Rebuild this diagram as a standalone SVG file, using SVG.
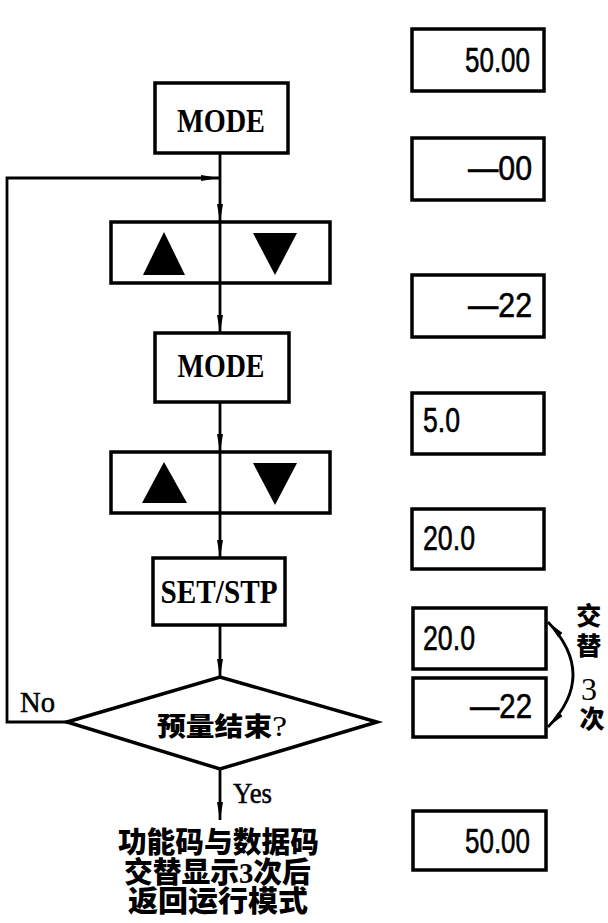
<svg xmlns="http://www.w3.org/2000/svg" width="608" height="923" viewBox="0 0 608 923">
<style>
.box{fill:#fff;stroke:#000;stroke-width:3.5}
.ln{fill:none;stroke:#000;stroke-width:2.8}
.key{font-family:"Liberation Serif",serif;font-size:33px;font-weight:bold;fill:#000}
.num{font-family:"Liberation Sans",sans-serif;font-size:35px;fill:#000;stroke:#000;stroke-width:0.6}
.cjk{font-family:"Liberation Serif","Noto Sans CJK SC",serif;font-weight:900;fill:#000}
.lbl{font-family:"Liberation Serif",serif;font-size:29px;fill:#000;stroke:#000;stroke-width:0.5}
</style>
<defs>
<marker id="arr" viewBox="0 0 18 8" markerWidth="18" markerHeight="8" refX="18" refY="4" orient="auto-start-reverse" markerUnits="userSpaceOnUse">
<path d="M0,1 L18,4 L0,7 z" fill="#000"/>
</marker>
</defs>
<rect width="608" height="923" fill="#fff"/>

<g id="connectors">
<line class="ln" x1="220" y1="153" x2="220" y2="222" marker-end="url(#arr)"/>
<polyline class="ln" points="67,722 7,722 7,178 219,178" marker-end="url(#arr)"/>
<line class="ln" x1="220" y1="283" x2="220" y2="333" marker-end="url(#arr)"/>
<line class="ln" x1="220" y1="402" x2="220" y2="452" marker-end="url(#arr)"/>
<line class="ln" x1="220" y1="513" x2="220" y2="558" marker-end="url(#arr)"/>
<line class="ln" x1="220" y1="625" x2="220" y2="677" marker-end="url(#arr)"/>
<line class="ln" x1="220" y1="769" x2="220" y2="820" marker-end="url(#arr)"/>
<path class="ln" d="M548,622 Q598,675 548,727" marker-start="url(#arr)" marker-end="url(#arr)"/>
</g>

<g id="mode1">
<rect class="box" x="155" y="83" width="133" height="70"/>
<text class="key" x="221" y="132" text-anchor="middle" textLength="88" lengthAdjust="spacingAndGlyphs">MODE</text>
</g>
<g id="arrows1">
<rect class="box" x="111" y="222" width="219" height="61"/>
<line class="ln" x1="220" y1="222" x2="220" y2="283"/>
<polygon points="143,275 164,232 185,275" fill="#000"/>
<polygon points="253,233 297,233 275,275" fill="#000"/>
</g>
<g id="mode2">
<rect class="box" x="155" y="333" width="134" height="69"/>
<text class="key" x="221" y="377" text-anchor="middle" textLength="87" lengthAdjust="spacingAndGlyphs">MODE</text>
</g>
<g id="arrows2">
<rect class="box" x="111" y="452" width="219" height="61"/>
<line class="ln" x1="220" y1="452" x2="220" y2="513"/>
<polygon points="142,503 164,462 187,503" fill="#000"/>
<polygon points="253,463 297,463 275,505" fill="#000"/>
</g>
<g id="setstp">
<rect class="box" x="153" y="558" width="132" height="67"/>
<text class="key" x="219" y="603" text-anchor="middle" textLength="117" lengthAdjust="spacingAndGlyphs">SET/STP</text>
</g>
<g id="decision">
<polygon class="box" points="67,722 220,677 377,722 220,769"/>
<text class="cjk" x="222" y="736" font-size="26" text-anchor="middle" textLength="130" lengthAdjust="spacingAndGlyphs">预量结束<tspan font-size="30" font-weight="400">?</tspan></text>
<text class="lbl" x="20" y="712" textLength="35" lengthAdjust="spacingAndGlyphs">No</text>
<text class="lbl" x="233" y="803" textLength="39" lengthAdjust="spacingAndGlyphs">Yes</text>
</g>
<g id="result">
<text class="cjk" font-size="29" text-anchor="middle">
<tspan x="222" y="853" textLength="201" lengthAdjust="spacingAndGlyphs">功能码与数据码</tspan>
<tspan x="221" y="883" textLength="187" lengthAdjust="spacingAndGlyphs">交替显示3次后</tspan>
<tspan x="218" y="912" textLength="180" lengthAdjust="spacingAndGlyphs">返回运行模式</tspan>
</text>
</g>

<g id="d1"><rect class="box" x="412" y="29" width="132" height="62"/>
<text class="num" x="530" y="72" text-anchor="end" textLength="65" lengthAdjust="spacingAndGlyphs">50.00</text></g>
<g id="d2"><rect class="box" x="412" y="138" width="132" height="62"/>
<text class="num" x="532" y="180" text-anchor="end" textLength="64" lengthAdjust="spacingAndGlyphs">—00</text></g>
<g id="d3"><rect class="box" x="412" y="275" width="132" height="62"/>
<text class="num" x="532" y="317" text-anchor="end" textLength="64" lengthAdjust="spacingAndGlyphs">—22</text></g>
<g id="d4"><rect class="box" x="412" y="393" width="132" height="61"/>
<text class="num" x="423" y="432" textLength="37" lengthAdjust="spacingAndGlyphs">5.0</text></g>
<g id="d5"><rect class="box" x="412" y="509" width="132" height="60"/>
<text class="num" x="423" y="550" textLength="52" lengthAdjust="spacingAndGlyphs">20.0</text></g>
<g id="d6"><rect class="box" x="413" y="608" width="133" height="61"/>
<text class="num" x="423" y="650" textLength="52" lengthAdjust="spacingAndGlyphs">20.0</text></g>
<g id="d7"><rect class="box" x="413" y="678" width="133" height="59"/>
<text class="num" x="532" y="718" text-anchor="end" textLength="62" lengthAdjust="spacingAndGlyphs">—22</text></g>
<g id="d8"><rect class="box" x="413" y="811" width="133" height="59"/>
<text class="num" x="530" y="853" text-anchor="end" textLength="65" lengthAdjust="spacingAndGlyphs">50.00</text></g>

<g id="alt-label">
<text class="cjk" font-size="25" text-anchor="middle">
<tspan x="592" y="625">交</tspan>
<tspan x="592" y="655">替</tspan>
<tspan x="592" y="700" font-size="32" font-weight="400">3</tspan>
<tspan x="592" y="728">次</tspan>
</text>
</g>
</svg>
